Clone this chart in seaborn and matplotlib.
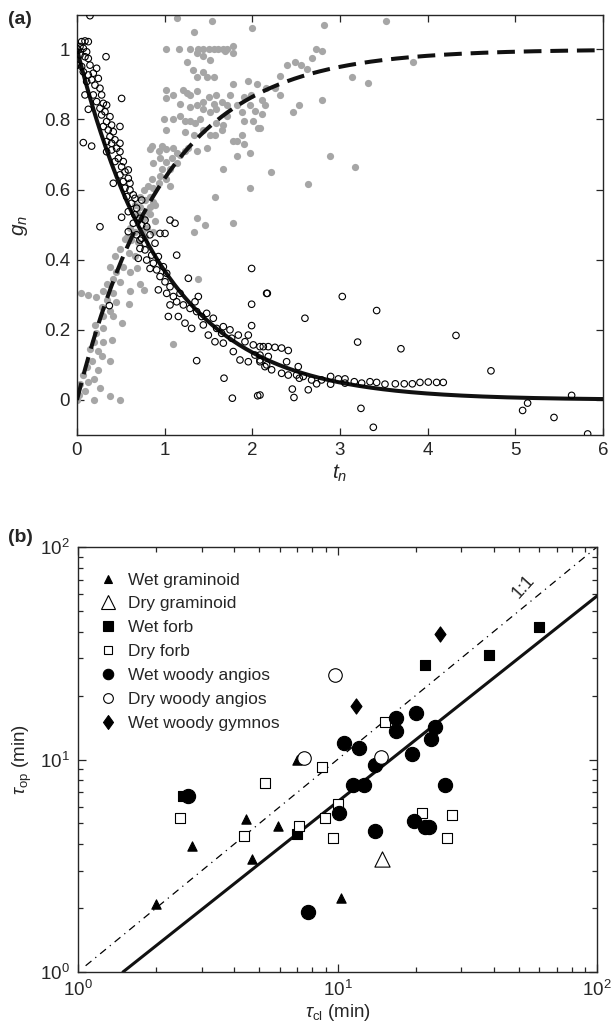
import numpy as np
import matplotlib
matplotlib.use("Agg")
import matplotlib.pyplot as plt
import seaborn as sns
from matplotlib.lines import Line2D
from matplotlib.path import Path
from matplotlib.ticker import LogLocator, NullFormatter, FuncFormatter, MultipleLocator

# ---------------- Panel (a) data ----------------
# grey filled dots (opening)
open_t = [1.14, 1.54, 2.00, 1.33, 1.02, 1.16, 1.29, 1.38, 1.44, 1.50, 1.56, 1.61, 1.67, 1.71, 1.78, 1.78,
          1.37, 1.44, 1.52, 1.69, 1.25, 1.32, 1.44, 1.37, 1.48, 1.56, 1.78, 1.95, 2.05, 1.02, 1.21, 1.25,
          1.29, 1.37, 1.10, 1.02, 1.50, 1.59, 1.75, 1.44, 1.56, 1.65, 1.90, 1.99, 2.11, 2.16, 1.18, 1.29,
          1.37, 1.44, 1.52, 1.59, 1.71, 1.82, 1.88, 1.97, 2.03, 2.11, 0.99, 1.10, 1.18, 1.23, 1.29, 1.35,
          1.40, 1.59, 1.71, 1.67, 1.90, 2.01, 2.07, 1.02, 1.23, 1.33, 1.44, 1.52, 1.57, 1.65, 1.78, 1.88,
          1.90, 0.85, 0.97, 0.83, 0.93, 1.02, 1.10, 1.14, 1.23, 1.27, 1.37, 1.48, 1.82, 1.97, 1.82, 0.95,
          1.02, 1.08, 1.18, 0.87, 0.97, 1.06, 1.14, 1.67, 0.85, 0.95, 0.93, 1.02, 1.06, 0.81, 0.87, 0.76,
          1.97, 0.72, 0.78, 0.83, 0.87, 1.57, 0.66, 0.72, 0.80, 0.83, 0.89, 0.70, 0.76, 0.83, 0.89, 1.37,
          1.46, 1.78, 0.60, 0.66, 0.74, 0.80, 0.87, 1.33, 0.57, 0.62, 0.70, 0.78,
          0.55, 0.49, 0.59, 0.43, 0.66, 0.68, 0.38, 0.45, 0.53, 0.60, 0.41, 1.38, 0.34, 0.49, 0.72, 0.76,
          0.05, 0.13, 0.22, 0.30, 0.41, 0.60, 0.34, 0.45, 0.59, 0.28, 0.38, 0.30, 0.41, 0.51, 0.21, 0.30,
          0.22, 0.40, 1.10, 0.30, 0.19, 0.15, 0.24, 0.28, 0.38, 0.17, 0.11, 0.24, 0.07, 0.19, 0.13, 0.26,
          0.03, 0.09, 0.02, 0.38, 0.49, 0.19, 0.00,
          2.82, 3.52, 2.73, 2.79, 2.68, 2.49, 2.39, 2.56, 2.62, 3.83, 2.32, 3.14, 3.32, 2.26, 2.32, 2.80,
          2.14, 2.53, 2.46, 2.09, 2.89, 2.21, 3.17, 2.64]
open_g = [1.09, 1.08, 1.06, 1.05, 1.00, 1.00, 1.00, 1.00, 1.00, 1.00, 1.00, 1.00, 1.00, 1.00, 1.01, 0.99,
          0.99, 0.98, 0.97, 0.995, 0.965, 0.94, 0.935, 0.92, 0.92, 0.92, 0.90, 0.91, 0.90, 0.885, 0.885, 0.875,
          0.87, 0.88, 0.87, 0.86, 0.865, 0.87, 0.87, 0.85, 0.845, 0.85, 0.865, 0.87, 0.855, 0.89, 0.845, 0.835,
          0.84, 0.83, 0.82, 0.83, 0.84, 0.84, 0.82, 0.84, 0.825, 0.815, 0.80, 0.80, 0.81, 0.795, 0.795, 0.79,
          0.80, 0.79, 0.81, 0.785, 0.795, 0.795, 0.775, 0.77, 0.765, 0.755, 0.77, 0.755, 0.755, 0.77, 0.74, 0.755,
          0.73, 0.725, 0.725, 0.715, 0.71, 0.715, 0.72, 0.705, 0.71, 0.72, 0.71, 0.72, 0.695, 0.705, 0.74, 0.69,
          0.68, 0.69, 0.70, 0.675, 0.66, 0.66, 0.675, 0.66, 0.63, 0.64, 0.62, 0.63, 0.61, 0.61, 0.605, 0.60,
          0.605, 0.58, 0.57, 0.58, 0.565, 0.58, 0.555, 0.55, 0.54, 0.55, 0.555, 0.53, 0.52, 0.53, 0.51, 0.52,
          0.50, 0.505, 0.49, 0.48, 0.48, 0.49, 0.48, 0.48, 0.465, 0.455, 0.45, 0.465,
          0.46, 0.43, 0.42, 0.41, 0.41, 0.375, 0.38, 0.365, 0.38, 0.365, 0.345, 0.345, 0.33, 0.335, 0.33, 0.315,
          0.305, 0.30, 0.295, 0.31, 0.305, 0.31, 0.285, 0.28, 0.275, 0.265, 0.255, 0.24, 0.24, 0.22, 0.215, 0.205,
          0.19, 0.17, 0.16, 0.165, 0.165, 0.145, 0.14, 0.125, 0.11, 0.11, 0.095, 0.085, 0.07, 0.06, 0.05, 0.035,
          0.045, 0.025, 0.015, 0.01, 0.00, 0.00, 0.00,
          1.07, 1.08, 1.00, 0.995, 0.975, 0.965, 0.955, 0.955, 0.945, 0.965, 0.925, 0.92, 0.905, 0.89, 0.87, 0.855,
          0.84, 0.84, 0.82, 0.775, 0.695, 0.65, 0.665, 0.615]

# open black circles (closing)
close_t = [0.148, 0.00, 0.015, 0.034, 0.053, 0.091, 0.129, 0.072, 0.110, 0.034, 0.091, 0.129, 0.00, 0.053,
           0.148, 0.072, 0.129, 0.186, 0.224, 0.243, 0.167, 0.110, 0.205, 0.262, 0.281, 0.186, 0.091, 0.224,
           0.300, 0.338, 0.262, 0.319, 0.281, 0.376, 0.338, 0.395, 0.300, 0.490, 0.357, 0.414, 0.376, 0.338,
           0.395, 0.433, 0.490, 0.452, 0.395, 0.338, 0.490, 0.471, 0.433, 0.528, 0.509, 0.547, 0.585, 0.490,
           0.585, 0.528, 0.604, 0.414, 0.547, 0.604, 0.642, 0.566, 0.661, 0.738, 0.623, 0.680, 0.585, 0.661,
           0.718, 0.776, 0.642, 0.738, 0.795, 0.585, 0.680, 0.738, 0.833, 0.890, 0.776,
           0.331, 0.509, 0.072, 0.167, 0.129, 0.262, 0.509, 1.061, 1.118, 0.947, 1.004, 0.718,
           0.718, 0.776, 0.699, 0.795, 0.852, 0.871, 0.928, 0.833, 0.909, 0.985, 0.947, 1.023, 1.004, 1.061,
           1.137, 0.928, 1.023, 1.099, 1.175, 1.137, 1.213, 1.061, 1.270, 1.384, 1.346, 1.289, 1.365, 1.422,
           1.479, 1.555, 1.042, 1.156, 1.232, 1.308, 1.441, 1.498, 1.593, 1.669, 1.745, 1.650, 1.574, 1.669,
           1.764, 1.840, 1.954, 1.916, 2.011, 2.125, 1.783, 1.859, 1.954, 2.087, 2.144, 2.030,
           1.992, 2.163, 1.992, 1.992, 1.365, 1.677, 1.772, 2.061, 0.369,
           2.171, 3.026, 3.418, 2.600, 3.201, 3.695, 4.323, 4.722, 2.087, 2.182, 2.258, 2.334, 2.410, 2.087,
           2.182, 2.087, 2.163, 2.220, 2.391, 2.334, 2.410, 2.524, 2.505, 2.536, 2.581, 2.676, 2.733, 2.790,
           2.893, 2.893, 2.981, 3.057, 3.057, 3.163, 3.247, 3.342, 3.418, 3.513, 3.631, 3.733, 3.825, 3.912,
           4.007, 4.102, 4.178, 2.456, 2.475, 2.638, 3.239, 3.380, 2.087, 5.083, 5.140, 5.441, 5.642, 5.825]
close_g = [1.096, 1.003, 0.998, 1.008, 1.022, 1.024, 1.022, 1.003, 0.993, 0.984, 0.979, 0.974, 0.955, 0.951,
           0.955, 0.936, 0.927, 0.932, 0.946, 0.917, 0.913, 0.908, 0.898, 0.889, 0.870, 0.870, 0.870, 0.851,
           0.846, 0.841, 0.832, 0.822, 0.813, 0.808, 0.794, 0.784, 0.780, 0.780, 0.770, 0.765, 0.751, 0.737,
           0.732, 0.742, 0.732, 0.718, 0.713, 0.708, 0.708, 0.689, 0.680, 0.680, 0.665, 0.651, 0.656, 0.642,
           0.632, 0.623, 0.618, 0.618, 0.604, 0.599, 0.585, 0.580, 0.575, 0.570, 0.561, 0.547, 0.537, 0.528,
           0.518, 0.513, 0.504, 0.499, 0.494, 0.480, 0.471, 0.461, 0.471, 0.447, 0.447,
           0.979, 0.860, 0.734, 0.724, 0.829, 0.494, 0.521, 0.513, 0.504, 0.475, 0.475, 0.456,
           0.432, 0.428, 0.404, 0.399, 0.413, 0.390, 0.409, 0.375, 0.371, 0.380, 0.352, 0.361, 0.337, 0.323,
           0.413, 0.314, 0.304, 0.295, 0.304, 0.280, 0.271, 0.271, 0.347, 0.295, 0.280, 0.261, 0.252, 0.238,
           0.247, 0.233, 0.238, 0.238, 0.219, 0.204, 0.214, 0.185, 0.204, 0.209, 0.200, 0.190, 0.166, 0.162,
           0.176, 0.185, 0.185, 0.166, 0.157, 0.152, 0.138, 0.114, 0.109, 0.114, 0.095, 0.128,
           0.375, 0.304, 0.273, 0.212, 0.112, 0.062, 0.005, 0.012, 0.269,
           0.304, 0.295, 0.255, 0.233, 0.165, 0.146, 0.184, 0.083, 0.152, 0.152, 0.150, 0.148, 0.141, 0.128,
           0.124, 0.109, 0.100, 0.086, 0.109, 0.076, 0.071, 0.095, 0.071, 0.062, 0.067, 0.057, 0.046, 0.057,
           0.067, 0.045, 0.060, 0.060, 0.048, 0.052, 0.048, 0.052, 0.050, 0.045, 0.046, 0.046, 0.046, 0.050,
           0.051, 0.050, 0.050, 0.031, 0.007, 0.029, -0.024, -0.078, 0.014, -0.030, -0.009, -0.050, 0.013, -0.097]

fit_rate = 1.0  # fitted exponential rate of both model curves

# ---------------- Panel (b) data ----------------
groups = ["Wet graminoid", "Dry graminoid", "Wet forb", "Dry forb",
          "Wet woody angios", "Dry woody angios", "Wet woody gymnos"]
tau_cl = {
    "Wet graminoid": [1.99, 2.74, 4.43, 4.67, 5.91, 7.0, 10.3],
    "Dry graminoid": [14.8],
    "Wet forb": [2.55, 6.96, 21.7, 38.5, 60.0],
    "Dry forb": [2.47, 4.37, 5.26, 7.1, 8.69, 8.95, 9.63, 10.0, 15.2, 21.1, 26.5, 27.5],
    "Wet woody angios": [2.66, 7.70, 10.1, 10.6, 11.5, 12.1, 12.7, 14.0, 14.0, 16.8, 16.8, 19.3, 19.8,
                         20.1, 21.7, 22.6, 23.0, 23.8, 26.0],
    "Dry woody angios": [7.43, 9.76, 14.7],
    "Wet woody gymnos": [11.8, 24.9],
}
tau_op = {
    "Wet graminoid": [2.09, 3.93, 5.25, 3.40, 4.89, 10.0, 2.22],
    "Dry graminoid": [3.4],
    "Wet forb": [6.76, 4.46, 27.7, 31.0, 42.0],
    "Dry forb": [5.29, 4.38, 7.73, 4.85, 9.2, 5.3, 4.29, 6.15, 15.0, 5.58, 4.29, 5.5],
    "Wet woody angios": [6.76, 1.92, 5.58, 11.9, 7.59, 11.3, 7.59, 9.43, 4.59, 15.7, 13.6, 10.6, 5.16,
                         16.5, 4.83, 4.83, 12.5, 14.2, 7.59],
    "Dry woody angios": [10.2, 25.0, 10.25],
    "Wet woody gymnos": [17.8, 39.0],
}
fit_x = [1.49, 100.0]
fit_y = [1.0, 58.8]
one_x = [1.07, 100.0]

# ---------------- style ----------------
sns.set_style("ticks")
plt.rcParams["font.family"] = ["Liberation Sans", "DejaVu Sans"]
plt.rcParams["mathtext.fontset"] = "custom"
plt.rcParams["mathtext.rm"] = "Liberation Sans"
plt.rcParams["mathtext.it"] = "Liberation Sans:italic"
plt.rcParams["mathtext.bf"] = "Liberation Sans:bold"
plt.rcParams["axes.linewidth"] = 1.0

fig = plt.figure(figsize=(6.14, 10.26), dpi=100)
W, H = 614, 1026
axA = fig.add_axes([77 / W, 1 - 435 / H, (603 - 77) / W, (435 - 15) / H])
axB = fig.add_axes([78 / W, 1 - 972 / H, (597 - 78) / W, (972 - 547) / H])

# ---------- Panel (a) ----------
sns.scatterplot(x=open_t, y=open_g, color="#a6a6a6", s=27, linewidth=0, ax=axA, zorder=2)
tt = np.linspace(0, 6, 400)
axA.plot(tt, 1 - np.exp(-fit_rate * tt), color="#111111", lw=2.9,
         linestyle=(0, (4.4, 2.2)), zorder=3)
axA.plot(tt, np.exp(-fit_rate * tt), color="#111111", lw=2.9, zorder=3)
sns.scatterplot(x=close_t, y=close_g, color="black", facecolors="none", edgecolor="black",
                s=22, linewidth=0.8, ax=axA, zorder=4)
axA.set_xlim(0, 6)
axA.set_ylim(-0.1, 1.098)
axA.xaxis.set_major_locator(MultipleLocator(1))
axA.set_yticks([0, 0.2, 0.4, 0.6, 0.8, 1.0])
axA.yaxis.set_major_formatter(FuncFormatter(lambda v, p: f"{v:g}"))
axA.tick_params(direction="in", top=True, right=True, length=5, width=0.9,
                labelsize=13.5, pad=5)
axA.set_xlabel(r"$t_n$", fontsize=15, labelpad=3)
axA.set_ylabel(r"$g_n$", fontsize=15, labelpad=10)
for s in axA.spines.values():
    s.set_visible(True)

# ---------- Panel (b) ----------
diamond = Path([(0, 1), (0.72, 0), (0, -1), (-0.72, 0), (0, 1)],
               [Path.MOVETO, Path.LINETO, Path.LINETO, Path.LINETO, Path.CLOSEPOLY])
styles = {
    "Wet graminoid": dict(marker="^", fc="black", s=45, lm=6),
    "Dry graminoid": dict(marker="^", fc="white", s=120, lm=10.5),
    "Wet forb": dict(marker="s", fc="black", s=55, lm=6.5),
    "Dry forb": dict(marker="s", fc="white", s=60, lm=6),
    "Wet woody angios": dict(marker="o", fc="black", s=105, lm=7.5),
    "Dry woody angios": dict(marker="o", fc="white", s=95, lm=7),
    "Wet woody gymnos": dict(marker=diamond, fc="black", s=120, lm=10),
}
axB.plot(one_x, one_x, color="black", lw=0.9, linestyle=(0, (6, 4, 1, 4)), zorder=1)
axB.plot(fit_x, fit_y, color="#111111", lw=2.2, zorder=1)
for g in groups:
    st = styles[g]
    sns.scatterplot(x=tau_cl[g], y=tau_op[g], marker=st["marker"], color=st["fc"],
                    edgecolor="black", s=st["s"], linewidth=0.8, ax=axB, zorder=3)
axB.set_xscale("log")
axB.set_yscale("log")
axB.set_xlim(1, 100)
axB.set_ylim(1, 100)
axB.xaxis.set_major_locator(LogLocator(base=10, numticks=5))
axB.yaxis.set_major_locator(LogLocator(base=10, numticks=5))
axB.xaxis.set_minor_locator(LogLocator(base=10, subs=np.arange(2, 10), numticks=20))
axB.yaxis.set_minor_locator(LogLocator(base=10, subs=np.arange(2, 10), numticks=20))
axB.xaxis.set_minor_formatter(NullFormatter())
axB.yaxis.set_minor_formatter(NullFormatter())
axB.tick_params(which="both", direction="in", top=True, right=True, width=0.9, labelsize=13.5)
axB.tick_params(which="major", length=6, pad=6)
axB.tick_params(which="minor", length=3.5)
axB.set_xlabel(r"$\tau_{\mathrm{cl}}$ (min)", fontsize=13.5, labelpad=1)
axB.set_ylabel(r"$\tau_{\mathrm{op}}$ (min)", fontsize=13.5, labelpad=4)
axB.text(52, 65, "1:1", rotation=48, fontsize=13, ha="center", va="center")
for s in axB.spines.values():
    s.set_visible(True)

handles = []
for g in groups:
    st = styles[g]
    handles.append(Line2D([], [], linestyle="none", marker=st["marker"], markersize=st["lm"],
                          markerfacecolor=st["fc"], markeredgecolor="black", markeredgewidth=0.8))
axB.legend(handles, groups, loc="upper left", bbox_to_anchor=(0.0385, 0.94), frameon=False,
           fontsize=12.5, handlelength=1.2, handletextpad=0.55, labelspacing=0.5, borderpad=0,
           borderaxespad=0)

fig.text(8 / W, 1 - 19 / H, "(a)", fontsize=14, fontweight="bold", va="center", ha="left")
fig.text(8 / W, 1 - 538 / H, "(b)", fontsize=14, fontweight="bold", va="center", ha="left")

fig.savefig("out.png", dpi=100)
